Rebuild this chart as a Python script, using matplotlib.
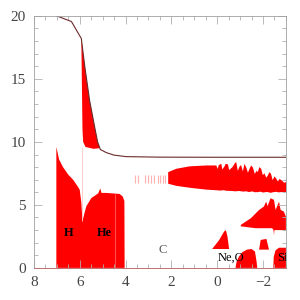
import matplotlib
matplotlib.use("Agg")
import matplotlib.pyplot as plt
from matplotlib.ticker import MultipleLocator

# surface / total mass line
line_x = [7.0, 6.36, 5.93, 5.78, 5.57, 5.35, 5.22, 5.1, 4.84, 4.5, 3.97, 2.5, 0.0, -3.0]
line_y = [20.0, 19.55, 18.2, 16.0, 13.3, 11.2, 10.0, 9.4, 9.15, 8.95, 8.83, 8.79, 8.78, 8.78]

# steep convective zone below the line
steep_x = [5.93, 5.78, 5.57, 5.35, 5.22, 5.12, 5.4, 5.75, 5.85, 5.88, 5.93]
steep_y = [18.2, 16.0, 13.3, 11.2, 10.0, 9.5, 9.45, 9.6, 10.0, 11.0, 18.2]

# H and He burning cores
core_x = [7.02, 7.02, 6.9, 6.73, 6.5, 6.29, 6.1, 6.0, 5.93, 5.88, 5.8, 5.71, 5.49,
          5.2, 5.1, 5.05, 4.84, 4.26, 4.12, 4.05, 4.04]
core_y = [0.0, 9.6, 8.6, 8.0, 7.4, 7.0, 6.5, 6.2, 5.2, 3.7, 4.3, 4.9, 5.55,
          5.9, 6.3, 5.95, 5.95, 5.87, 5.66, 5.3, 0.0]

# envelope band (ragged)
band_x = [2.16, 1.8, 1.22, 0.49, 0.2, 0.06, 0.0, -0.05, -0.16, -0.2, -0.3, -0.35,
          -0.45, -0.5, -0.59, -0.65, -0.75, -0.81, -0.88, -0.96, -1.02, -1.1, -1.17,
          -1.25, -1.32, -1.39, -1.46, -1.54, -1.62, -1.7, -1.75, -1.82, -1.9, -1.97,
          -2.04, -2.12, -2.19, -2.26, -2.33, -2.4, -2.48, -2.56, -2.63, -2.7, -2.8,
          -2.9, -3.0]
band_top = [7.64, 7.91, 8.1, 8.17, 8.17, 8.17, 7.9, 8.2, 8.3, 7.85, 8.1, 8.3,
            8.25, 7.8, 7.95, 8.05, 8.35, 8.44, 7.75, 8.1, 8.2, 7.7, 8.3,
            8.0, 7.6, 7.9, 8.17, 8.0, 7.5, 7.75, 7.64, 8.04, 7.9, 7.4,
            7.55, 7.2, 7.38, 7.64, 7.5, 7.0, 7.3, 7.12, 6.9, 7.1, 6.98,
            6.8, 6.85]
band_bot = [6.72, 6.55, 6.4, 6.25, 6.22, 6.2, 6.2, 6.18, 6.18, 6.2, 6.2, 6.16,
            6.16, 6.15, 6.15, 6.14, 6.12, 6.12, 6.14, 6.14, 6.12, 6.1, 6.1,
            6.12, 6.08, 6.06, 6.1, 6.1, 6.04, 6.06, 6.04, 6.08, 6.08, 6.02,
            6.04, 6.06, 6.06, 6.02, 6.0, 6.04, 6.06, 6.08, 6.04, 6.04, 6.06,
            6.06, 6.06]
stripe_x = [3.6, 3.45, 3.17, 3.03, 2.88, 2.74, 2.59, 2.49, 2.38, 2.26]

# shell zones
wedge_x = [-1.03, -1.47, -1.83, -2.04, -2.14, -2.2, -2.33, -2.48, -2.55, -2.7, -2.77,
           -2.91, -3.0, -3.0, -2.5, -2.48, -2.46, -2.4, -1.68, -1.03]
wedge_y = [3.41, 3.94, 4.6, 4.87, 5.26, 4.9, 5.53, 5.4, 4.6, 5.26, 4.6,
           4.47, 4.07, 3.0, 3.0, 2.6, 3.0, 3.15, 3.15, 3.3]
tri_x = [0.22, -0.09, -0.3, -0.38, -0.45, -0.52]
tri_y = [1.5, 2.22, 2.88, 3.0, 2.49, 1.5]
quad_x = [-1.83, -1.9, -2.15, -2.26]
quad_y = [1.45, 2.22, 2.3, 1.45]
neo_x = [-0.8, -0.85, -0.95, -1.1, -1.3, -1.5, -1.65, -1.72, -1.75]
neo_y = [0.0, 0.5, 0.9, 1.25, 1.45, 1.5, 1.3, 0.5, 0.0]
si_x = [-2.45, -2.47, -2.55, -2.7, -3.0, -3.0]
si_y = [0.0, 0.9, 1.4, 1.6, 1.6, 0.0]

labels = ["H", "He", "C", "Ne,O", "Si"]
label_x = [6.48, 4.91, 2.39, -0.61, -2.62]
label_y = [2.78, 2.78, 1.43, 0.79, 0.79]

red = "#ff0000"
serif = "Liberation Serif"

fig = plt.figure(figsize=(3, 3), dpi=100)
ax = fig.add_axes([0.113, 0.107, 0.84, 0.84])

ax.fill(core_x, core_y, color=red, lw=0)
ax.fill(steep_x, steep_y, color=red, lw=0)
ax.fill_between(band_x, band_bot, band_top, color=red, lw=0)
ax.vlines(stripe_x, 6.75, 7.4, color="#ffb0b0", lw=0.8)
ax.fill(wedge_x, wedge_y, color=red, lw=0)
ax.fill(tri_x, tri_y, color=red, lw=0)
ax.fill(quad_x, quad_y, color=red, lw=0)
ax.fill(neo_x, neo_y, color=red, lw=0)
ax.fill(si_x, si_y, color=red, lw=0)
ax.vlines(5.9, 3.7, 9.6, color="#ffc8c8", lw=0.6)
ax.vlines(4.47, 0, 5.9, color="#ff7070", lw=0.5)

ax.plot(line_x, line_y, color="#6b2a2a", lw=0.8)

for i, s in enumerate(labels):
    ha = "left" if s == "Si" else "center"
    col = "#555555" if s == "C" else "black"
    ax.text(label_x[i], label_y[i], s, ha=ha, va="center", fontsize=9,
            fontweight="bold" if s in ("H", "He") else "normal",
            family=serif, color=col, clip_on=True)

ax.set_xlim(8, -3)
ax.set_ylim(0, 20)
ax.xaxis.set_major_locator(MultipleLocator(2))
ax.xaxis.set_minor_locator(MultipleLocator(0.5))
ax.yaxis.set_major_locator(MultipleLocator(5))
ax.yaxis.set_minor_locator(MultipleLocator(1))
ax.tick_params(which="both", direction="in", top=True, right=True,
               color="#b0b0b0", width=0.6, labelsize=11, labelcolor="#444444", pad=6)
ax.tick_params(which="major", length=6)
ax.tick_params(which="minor", length=3)
for lab in ax.get_xticklabels() + ax.get_yticklabels():
    lab.set_family(serif)

for side in ["left", "top", "right"]:
    ax.spines[side].set_color("#a0a0a0")
    ax.spines[side].set_linewidth(0.6)
ax.spines["bottom"].set_color("#c07070")
ax.spines["bottom"].set_linewidth(0.7)

fig.savefig("out.png", dpi=100)
